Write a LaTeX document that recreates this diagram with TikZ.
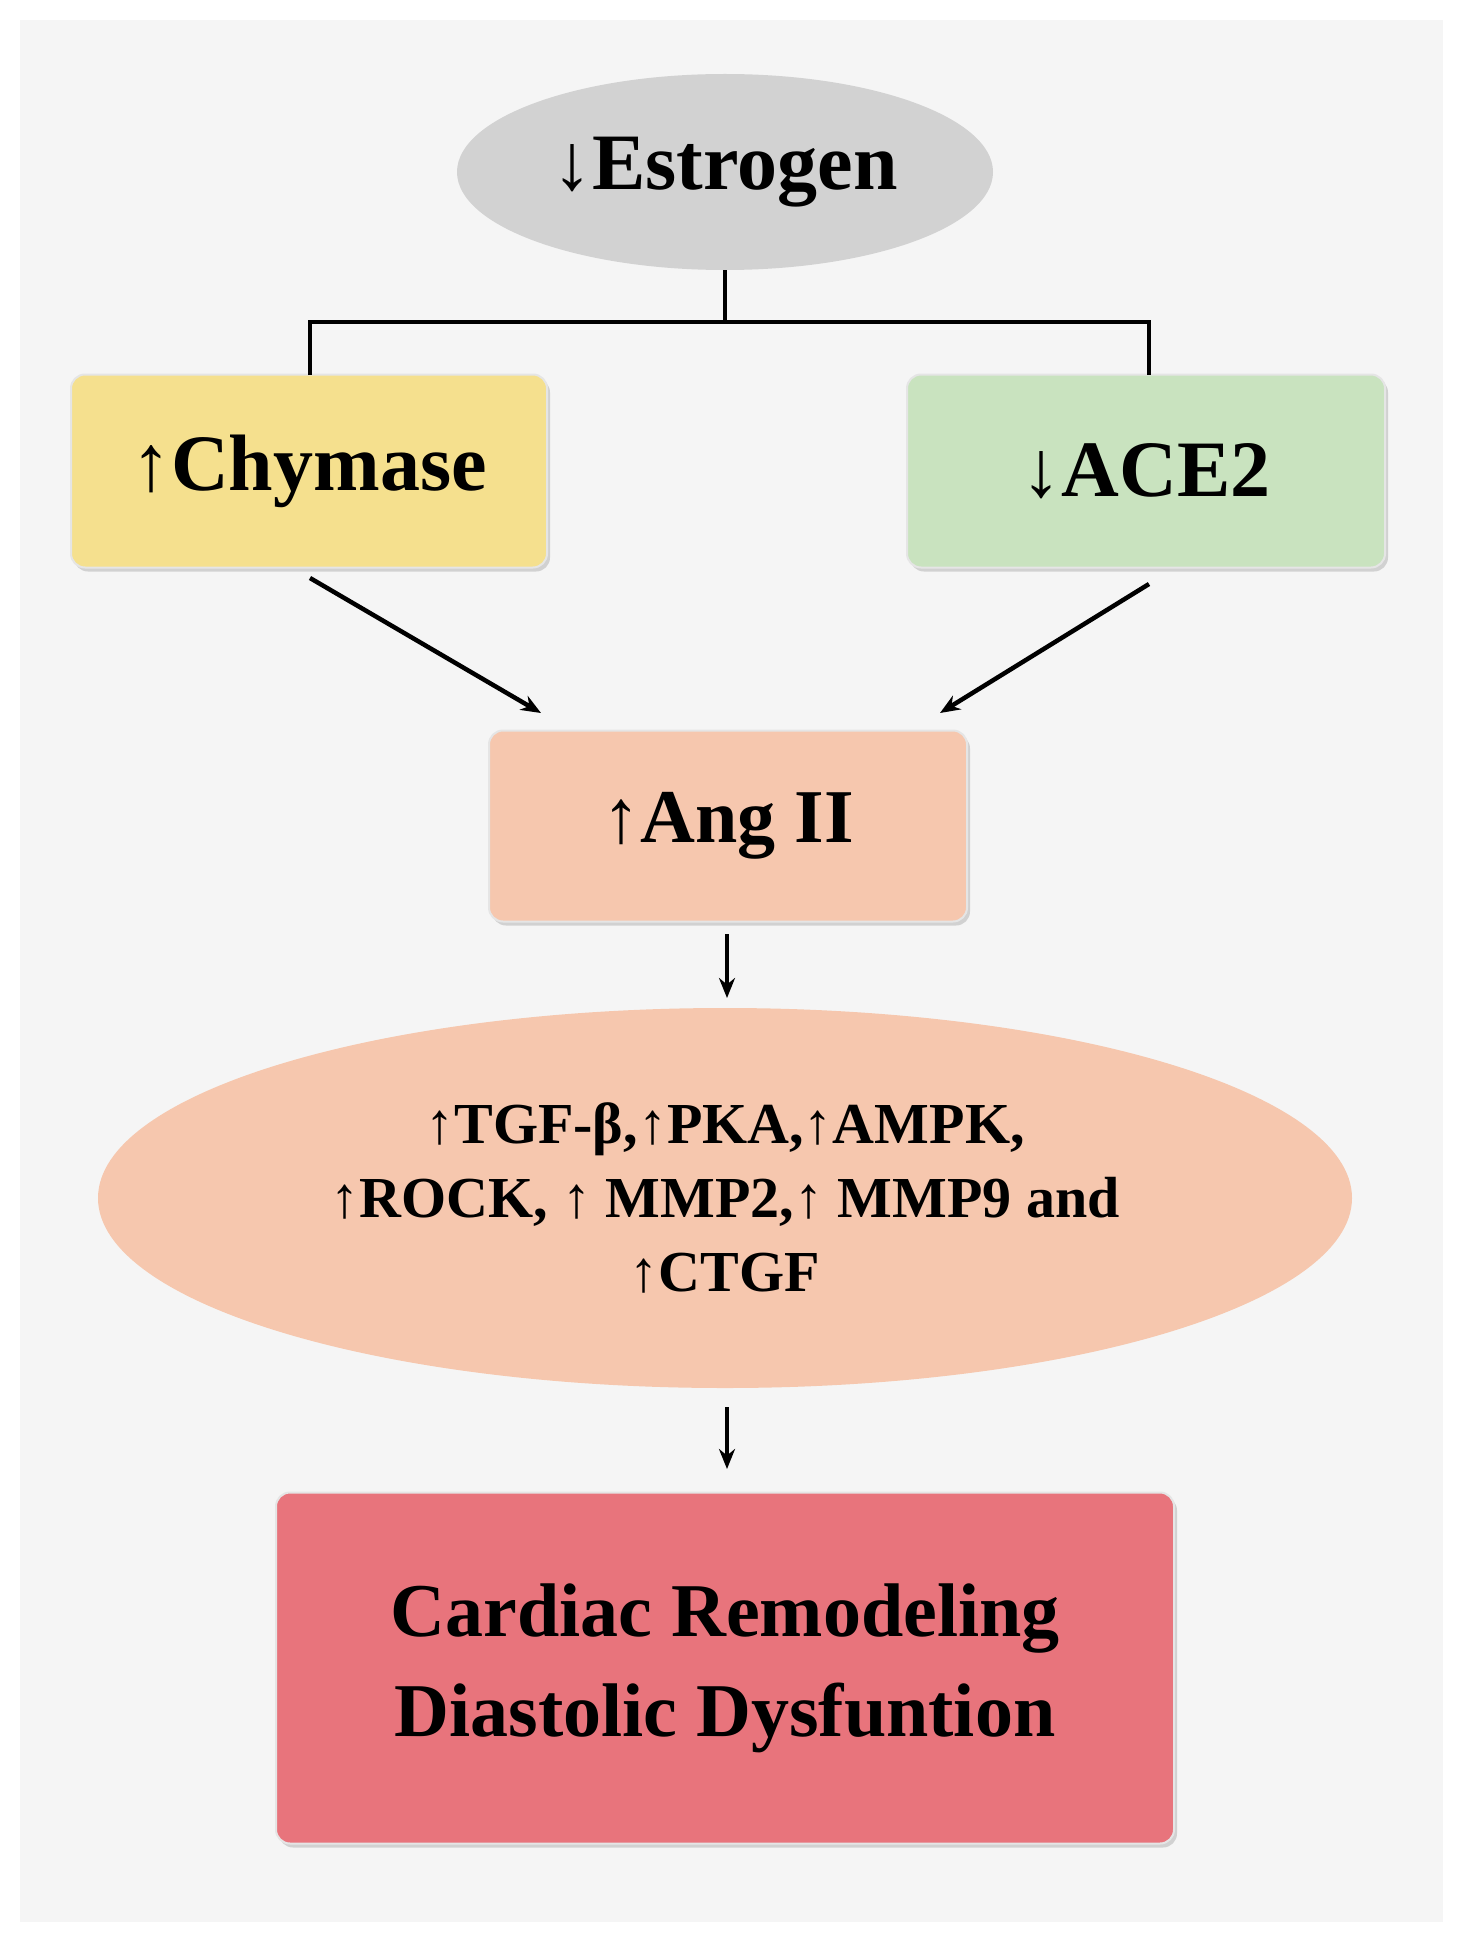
\documentclass[tikz,border=0pt]{standalone}
\usepackage{fontspec}
\setmainfont{Liberation Serif}
\usetikzlibrary{shapes.geometric,arrows.meta,shadows}
\newcommand{\UA}{\char"2191\relax}
\newcommand{\DA}{\char"2193\relax}
\definecolor{chyc}{HTML}{F5E08E}
\definecolor{acec}{HTML}{C9E3BF}
\definecolor{angc}{HTML}{F6C7AE}
\definecolor{carc}{HTML}{E8747C}
\begin{document}
\begin{tikzpicture}[x=1pt,y=-1pt,
  box/.style={draw=white!80!gray,line width=2pt,rounded corners=14pt,drop shadow={shadow xshift=3pt,shadow yshift=-4pt,opacity=0.3}},
  txt/.style={font=\bfseries\fontsize{80}{90}\selectfont},
  arr/.style={line width=4.5pt,-{Stealth[length=20pt,width=16pt]}},
  ln/.style={line width=4.5pt}]
\useasboundingbox (0,0) rectangle (1463,1942);
\fill[gray!8] (20,20) rectangle (1443,1922);
\node[ellipse,fill=gray!35,minimum width=536pt,minimum height=196pt,txt] (est) at (725,172) {\DA Estrogen};
\node[box,fill=chyc,minimum width=476pt,minimum height=193pt,txt] (chy) at (309,471) {\UA Chymase};
\node[box,fill=acec,minimum width=478pt,minimum height=193pt,txt] (ace) at (1146,471) {\DA ACE2};
\node[box,fill=angc,minimum width=478pt,minimum height=191pt,txt,font=\bfseries\fontsize{76}{90}\selectfont] (ang) at (728,826) {\UA Ang II};
\node[ellipse,fill=angc,minimum width=1254pt,minimum height=380pt,align=center,font=\bfseries\fontsize{58}{74}\selectfont] (mid) at (725,1198) {\UA TGF-β,\UA PKA,\UA AMPK,\\\UA ROCK, \UA\ MMP2,\UA\ MMP9 and\\\UA CTGF};
\node[box,fill=carc,minimum width=898pt,minimum height=351pt,align=center,font=\bfseries\fontsize{76}{100}\selectfont] (car) at (725,1668) {Cardiac Remodeling\\Diastolic Dysfuntion};
\coordinate (j) at (725,322);
\draw[ln] (est.south) -- (j);
\draw[ln] (310,375) |- (1149,322) -- (1149,375);
\draw[arr] (310,578) -- (541,713);
\draw[arr] (1149,584) -- (940,713);
\draw[arr] (727,934) -- (727,998);
\draw[arr] (727,1407) -- (727,1469);
\end{tikzpicture}
\end{document}
